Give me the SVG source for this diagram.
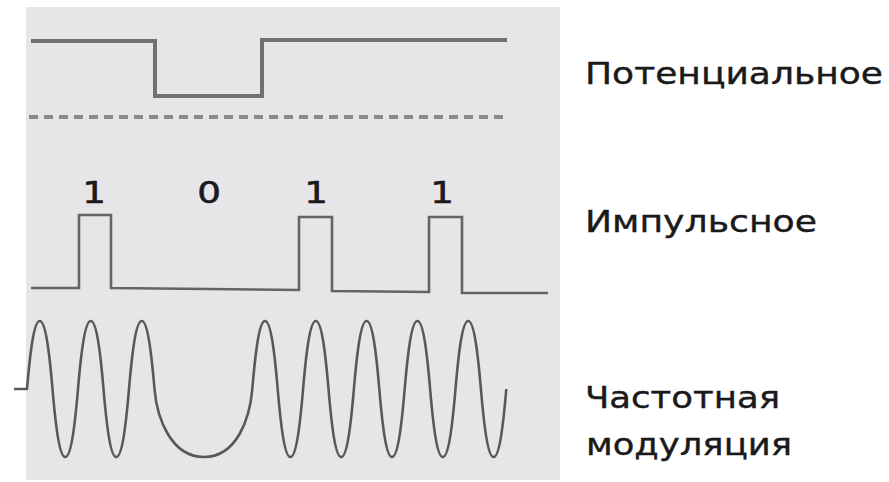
<svg xmlns="http://www.w3.org/2000/svg" width="889" height="482" viewBox="0 0 889 482">
  <style>
    .bg { fill: #e6e6e8; }
    .pot { fill: none; stroke: #717171; stroke-width: 4; stroke-linejoin: miter; }
    .dash { fill: none; stroke: #8a8a8a; stroke-width: 4; stroke-dasharray: 9 6; }
    .pulse { fill: none; stroke: #646464; stroke-width: 2.6; stroke-linejoin: miter; }
    .wave { fill: none; stroke: #585858; stroke-width: 2.6; stroke-linejoin: round; }
    .lbl { font-family: "DejaVu Sans", Verdana, sans-serif; font-size: 31px; fill: #1a1a1a; stroke: #1a1a1a; stroke-width: 0.4; }
    .bit { font-family: "DejaVu Sans", Verdana, sans-serif; font-size: 31px; fill: #1a1a1a; stroke: #1a1a1a; stroke-width: 0.6; text-anchor: middle; }
  </style>
  <rect width="889" height="482" fill="#ffffff"/>
  <rect class="bg" x="26" y="7" width="534" height="473"/>

  <g id="potential">
    <polyline class="pot" points="31,41 155,41 155,96 262,96 262,40 507,40"/>
    <line class="dash" x1="29" y1="117" x2="507" y2="117"/>
  </g>

  <g id="pulse">
    <polyline class="pulse" points="31,288 79,288 79,215 111,215 111,288 299,290 299,217 332,217 332,291 429,292 429,217 462,217 462,293 548,293"/>
    <text class="bit" x="94" y="203" textLength="23.7" lengthAdjust="spacingAndGlyphs">1</text>
    <text class="bit" x="209" y="203" textLength="23.7" lengthAdjust="spacingAndGlyphs">0</text>
    <text class="bit" x="316" y="203" textLength="23.7" lengthAdjust="spacingAndGlyphs">1</text>
    <text class="bit" x="442" y="203" textLength="23.7" lengthAdjust="spacingAndGlyphs">1</text>
  </g>

  <g id="fm">
    <path class="wave" d="M14,389 H27
      c3.19,-37.4 7.01,-68 12.75,-68 c5.74,0 9.56,30.6 12.75,68 c3.19,37.4 7.01,68 12.75,68 c5.74,0 9.56,-30.6 12.75,-68
      c3.19,-37.4 7.01,-68 12.75,-68 c5.74,0 9.56,30.6 12.75,68 c3.19,37.4 7.01,68 12.75,68 c5.74,0 9.56,-30.6 12.75,-68
      c3.19,-37.4 7.01,-68 12.75,-68 c5.74,0 9.56,30.6 12.75,68
      C157,418.3 171,457 204,457 C237,457 249.8,418.3 252.3,389
      c3.18,-37.4 6.99,-68 12.7,-68 c5.72,0 9.53,30.6 12.7,68 c3.18,37.4 6.99,68 12.7,68 c5.72,0 9.53,-30.6 12.7,-68
      c3.18,-37.4 6.99,-68 12.7,-68 c5.72,0 9.53,30.6 12.7,68 c3.18,37.4 6.99,68 12.7,68 c5.72,0 9.53,-30.6 12.7,-68
      c3.18,-37.4 6.99,-68 12.7,-68 c5.72,0 9.53,30.6 12.7,68 c3.18,37.4 6.99,68 12.7,68 c5.72,0 9.53,-30.6 12.7,-68
      c3.18,-37.4 6.99,-68 12.7,-68 c5.72,0 9.53,30.6 12.7,68 c3.18,37.4 6.99,68 12.7,68 c5.72,0 9.53,-30.6 12.7,-68
      c3.18,-37.4 6.99,-68 12.7,-68 c5.72,0 9.53,30.6 12.7,68 c3.18,37.4 6.99,68 12.7,68 c5.72,0 9.53,-30.6 12.7,-68"/>
  </g>

  <g id="labels">
    <text class="lbl" x="585" y="84" textLength="298" lengthAdjust="spacingAndGlyphs">Потенциальное</text>
    <text class="lbl" x="585" y="232" textLength="232" lengthAdjust="spacingAndGlyphs">Импульсное</text>
    <text class="lbl" x="585" y="408" textLength="195" lengthAdjust="spacingAndGlyphs">Частотная</text>
    <text class="lbl" x="586" y="455" textLength="206" lengthAdjust="spacingAndGlyphs">модуляция</text>
  </g>
</svg>
